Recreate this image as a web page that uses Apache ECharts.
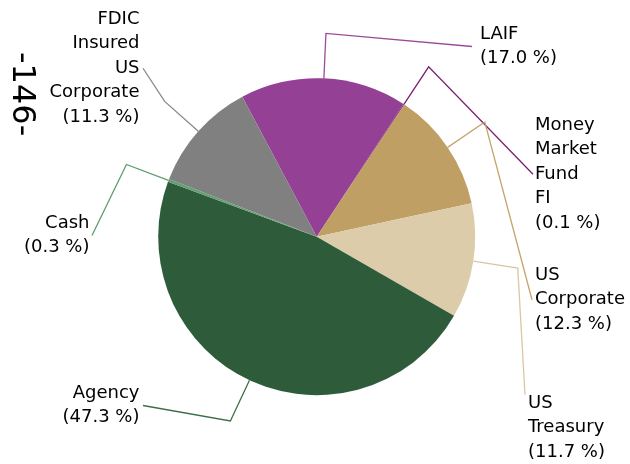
<!DOCTYPE html>
<html><head><meta charset="utf-8">
<script src="https://cdn.jsdelivr.net/npm/echarts@6/dist/echarts.min.js"></script>
<style>html,body{margin:0;padding:0;background:#fff}#c{width:630px;height:464px}</style>
</head><body><div id="c"></div>
<script>
// ---- data ----
const categories = ['LAIF', 'Money Market Fund FI', 'US Corporate', 'US Treasury', 'Agency', 'Cash', 'FDIC Insured US Corporate'];
const percents = [17.0, 0.1, 12.3, 11.7, 47.3, 0.3, 11.3];
const pageLabel = '-146-';

// ---- styles ----
const sliceColors = ['#944094', '#7b2472', '#bf9f63', '#dccca9', '#2e5c3a', '#62a070', '#808080'];
const lineColors  = ['#9a4c9a', '#7b1f70', '#c4a46a', '#d9c7a2', '#3d6e4a', '#5e9d6d', '#8a8a8a'];
const LINE_H = 24.5;
// label placement: x, y(top), align, end-point vertical fraction, gap
const labelPlace = [
  [480, 22, 'left', 0.5, 8],
  [535, 113, 'left', 0.5, 2],
  [535, 263, 'left', 0.5, 3],
  [528, 391, 'left', 0.05, 3],
  [139.5, 381, 'right', 0.5, 3.5],
  [89.5, 211, 'right', 0.5, 2.5],
  [139.5, 7, 'right', 0.5, 3.5]
];

function labelText(name, value) {
  return name.split(' ').join('\n') + '\n(' + value.toFixed(1) + ' %)';
}

const chart = echarts.init(document.getElementById('c'), null, {renderer: 'canvas'});
const data = categories.map((n, i) => ({
  name: n,
  value: percents[i],
  itemStyle: {color: sliceColors[i]},
  labelLine: {lineStyle: {color: lineColors[i]}}
}));

chart.setOption({
  animation: false,
  backgroundColor: '#fff',
  graphic: [{
    type: 'text',
    x: 21, y: 52,
    rotation: -Math.PI / 2,
    style: {text: pageLabel, font: '32px "DejaVu Sans"', fill: '#000', textAlign: 'left', textVerticalAlign: 'middle'}
  }],
  series: [{
    type: 'pie',
    center: [316.7, 236.7],
    radius: 158.5,
    startAngle: 118,
    clockwise: true,
    avoidLabelOverlap: false,
    silent: true,
    emphasis: {disabled: true},
    itemStyle: {borderWidth: 0},
    label: {
      show: true,
      position: 'outside',
      fontFamily: 'DejaVu Sans',
      fontSize: 18,
      lineHeight: LINE_H,
      color: '#000',
      formatter: p => labelText(p.name, p.value)
    },
    labelLine: {show: true, length: 45, length2: 10, smooth: false, lineStyle: {width: 1.3}},
    labelLayout: function (p) {
      const i = p.dataIndex;
      const pl = labelPlace[i];
      const nLines = labelText(categories[i], percents[i]).split('\n').length;
      const h = nLines * LINE_H;
      const ex = pl[2] === 'left' ? pl[0] - pl[4] : pl[0] + pl[4];
      const ey = pl[1] + h * pl[3];
      const pts = p.labelLinePoints;
      const out = {x: pl[0], y: pl[1], align: pl[2], verticalAlign: 'top'};
      if (pts && pts.length >= 2) out.labelLinePoints = [pts[0], pts[1], [ex, ey]];
      return out;
    },
    data: data
  }]
});
</script></body></html>
